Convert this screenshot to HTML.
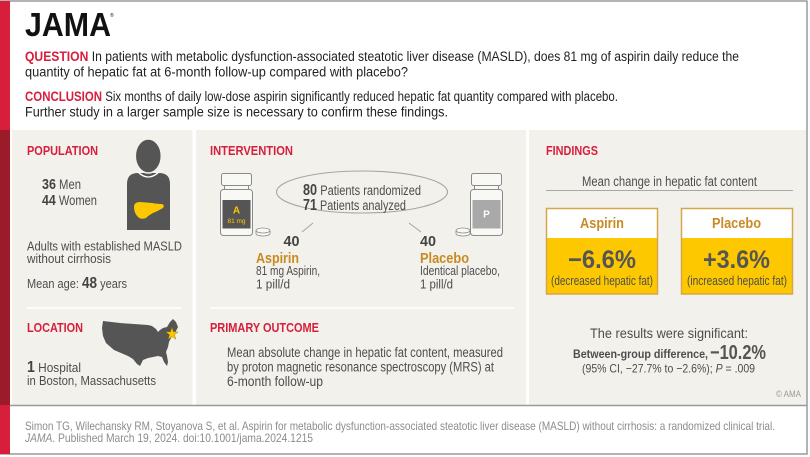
<!DOCTYPE html>
<html><head><meta charset="utf-8"><style>
html,body{margin:0;padding:0;background:#fff;}
svg{display:block;}
text{font-family:"Liberation Sans",Arial,sans-serif;}
</style></head><body>
<svg width="810" height="457" viewBox="0 0 810 457" xmlns="http://www.w3.org/2000/svg">
<rect x="0" y="0" width="810" height="457" fill="#fff"/>
<!-- panels -->
<rect x="12" y="130" width="180.5" height="275" fill="#f2f1ec"/>
<rect x="196" y="130" width="330" height="275" fill="#f2f1ec"/>
<rect x="529" y="130" width="277" height="275" fill="#f2f1ec"/>
<!-- frame -->
<line x1="0" y1="1" x2="807.5" y2="1" stroke="#9a9a9a" stroke-width="1.5"/>
<line x1="807" y1="1" x2="807" y2="454.5" stroke="#9a9a9a" stroke-width="1.5"/>
<line x1="0" y1="454" x2="807.5" y2="454" stroke="#9a9a9a" stroke-width="1.5"/>
<line x1="10" y1="405.5" x2="807" y2="405.5" stroke="#9a9a9a" stroke-width="1.5"/>
<rect x="0" y="1" width="10" height="453" fill="#d71f3c"/>
<rect x="0" y="130" width="10" height="275" fill="#9b1b2a"/>

<!-- header -->
<text x="25" y="36" font-size="33" font-weight="bold" fill="#111" textLength="86" lengthAdjust="spacingAndGlyphs">JAMA</text>
<text x="110" y="17" font-size="5" fill="#111">®</text>
<text x="25" y="61" font-size="13.5" fill="#222" textLength="714" lengthAdjust="spacingAndGlyphs"><tspan fill="#d71f3c" font-weight="bold">QUESTION</tspan> In patients with metabolic dysfunction-associated steatotic liver disease (MASLD), does 81 mg of aspirin daily reduce the</text>
<text x="25" y="76.5" font-size="13.5" fill="#222" textLength="383" lengthAdjust="spacingAndGlyphs">quantity of hepatic fat at 6-month follow-up compared with placebo?</text>
<text x="25" y="101" font-size="13.5" fill="#222" textLength="593" lengthAdjust="spacingAndGlyphs"><tspan fill="#d71f3c" font-weight="bold">CONCLUSION</tspan> Six months of daily low-dose aspirin significantly reduced hepatic fat quantity compared with placebo.</text>
<text x="25" y="116.5" font-size="13.5" fill="#222" textLength="423" lengthAdjust="spacingAndGlyphs">Further study in a larger sample size is necessary to confirm these findings.</text>

<!-- POPULATION panel -->
<text x="27" y="155" font-size="13" font-weight="bold" fill="#d71f3c" textLength="71" lengthAdjust="spacingAndGlyphs">POPULATION</text>
<text x="42" y="189" font-size="13.5" fill="#4d4d4d" textLength="39" lengthAdjust="spacingAndGlyphs"><tspan font-size="15" font-weight="bold" fill="#444">36</tspan> Men</text>
<text x="42" y="205" font-size="13.5" fill="#4d4d4d" textLength="55" lengthAdjust="spacingAndGlyphs"><tspan font-size="15" font-weight="bold" fill="#444">44</tspan> Women</text>
<!-- person -->
<path d="M127,230 L127,184 Q127,173 138,173 L159,173 Q170,173 170,184 L170,230 Z" fill="#555"/>
<path d="M138,172 Q148,182 159,172" fill="none" stroke="#fff" stroke-width="1.3"/>
<ellipse cx="148.3" cy="156" rx="13" ry="17" fill="#555" stroke="#f2f1ec" stroke-width="1.5"/>
<path d="M134,207 Q134,202 140,202 L152,203 Q158,204 162,204 Q165,205 163,208 Q158,211 153,213 Q149,215 146,218 Q141,220 138,217 Q134,213 134,207 Z" fill="#fdc800"/>
<text x="27" y="250.5" font-size="13" fill="#4d4d4d" textLength="155" lengthAdjust="spacingAndGlyphs">Adults with established MASLD</text>
<text x="27" y="263" font-size="13" fill="#4d4d4d" textLength="84" lengthAdjust="spacingAndGlyphs">without cirrhosis</text>
<text x="27" y="288" font-size="13" fill="#4d4d4d" textLength="100" lengthAdjust="spacingAndGlyphs">Mean age: <tspan font-size="16" font-weight="bold" fill="#444">48</tspan> years</text>
<line x1="27" y1="308" x2="181" y2="308" stroke="#fff" stroke-width="1.5"/>
<text x="27" y="332" font-size="13" font-weight="bold" fill="#d71f3c" textLength="56" lengthAdjust="spacingAndGlyphs">LOCATION</text>
<path d="M103,321 L120,323 L148,325 L152,326 L156,329 L158,332 L160,330 L163,328 L167,327 L170,322 L173,319 L176,322 L178,327 L176,331 L172,336 L169,342 L168,347 L166,352 L167,356 L168,362 L167,366 L164,362 L162,357 L158,356 L153,357 L148,358 L143,360 L140,366 L137,364 L133,359 L128,356 L121,353 L114,350 L106,343 L103,336 L102,328 Z" fill="#555"/>
<polygon points="172,327.5 173.53,331.9 178.18,331.99 174.47,334.8 175.82,339.26 172,336.6 168.18,339.26 169.53,334.8 165.82,331.99 170.47,331.9" fill="#fdc800" stroke="#8a6a00" stroke-width="0.4"/>
<text x="27" y="372" font-size="13" fill="#4d4d4d" textLength="54" lengthAdjust="spacingAndGlyphs"><tspan font-size="15.5" font-weight="bold" fill="#444">1</tspan> Hospital</text>
<text x="27" y="385" font-size="13" fill="#4d4d4d" textLength="129" lengthAdjust="spacingAndGlyphs">in Boston, Massachusetts</text>

<!-- INTERVENTION -->
<text x="210" y="155" font-size="13" font-weight="bold" fill="#d71f3c" textLength="83" lengthAdjust="spacingAndGlyphs">INTERVENTION</text>
<!-- aspirin bottle -->
<rect x="221.5" y="173.5" width="30" height="12" rx="2" fill="#f8f8f5" stroke="#8a8a8a" stroke-width="1"/>
<rect x="224.5" y="185.5" width="24" height="4" fill="#f8f8f5" stroke="#8a8a8a" stroke-width="1"/>
<rect x="220.5" y="189.5" width="32" height="46" rx="3" fill="#f8f8f5" stroke="#8a8a8a" stroke-width="1"/>
<rect x="222.5" y="200" width="28" height="28.5" fill="#555"/>
<text x="236.5" y="213.5" font-size="10" font-weight="bold" fill="#fdc800" text-anchor="middle">A</text>
<text x="236.5" y="223" font-size="6.5" fill="#fdc800" text-anchor="middle">81 mg</text>
<path d="M256,230.5 L256,233.5 A7,2.5 0 0 0 270,233.5 L270,230.5" fill="#f8f8f5" stroke="#8a8a8a" stroke-width="0.8"/>
<ellipse cx="263" cy="230.5" rx="7" ry="2.5" fill="#f8f8f5" stroke="#8a8a8a" stroke-width="0.8"/>
<!-- placebo bottle -->
<rect x="471.5" y="173.5" width="30" height="12" rx="2" fill="#f8f8f5" stroke="#8a8a8a" stroke-width="1"/>
<rect x="474.5" y="185.5" width="24" height="4" fill="#f8f8f5" stroke="#8a8a8a" stroke-width="1"/>
<rect x="470.5" y="189.5" width="32" height="46" rx="3" fill="#f8f8f5" stroke="#8a8a8a" stroke-width="1"/>
<rect x="472.5" y="200" width="28" height="28.5" fill="#a9a9a9"/>
<text x="486.5" y="217.5" font-size="10" font-weight="bold" fill="#fff" text-anchor="middle">P</text>
<path d="M456,230.5 L456,233.5 A7,2.5 0 0 0 470,233.5 L470,230.5" fill="#f8f8f5" stroke="#8a8a8a" stroke-width="0.8"/>
<ellipse cx="463" cy="230.5" rx="7" ry="2.5" fill="#f8f8f5" stroke="#8a8a8a" stroke-width="0.8"/>
<!-- ellipse -->
<ellipse cx="362" cy="192" rx="85.5" ry="21" fill="none" stroke="#a5a5a5" stroke-width="1.1"/>
<text x="303" y="195" font-size="13.5" fill="#4d4d4d" textLength="118" lengthAdjust="spacingAndGlyphs"><tspan font-size="15.5" font-weight="bold" fill="#444">80</tspan> Patients randomized</text>
<text x="303" y="210" font-size="13.5" fill="#4d4d4d" textLength="103" lengthAdjust="spacingAndGlyphs"><tspan font-size="15.5" font-weight="bold" fill="#444">71</tspan> Patients analyzed</text>
<line x1="313" y1="223" x2="302" y2="232" stroke="#a5a5a5" stroke-width="1"/>
<line x1="409" y1="223" x2="421" y2="232" stroke="#a5a5a5" stroke-width="1"/>
<text x="283.5" y="246" font-size="15" font-weight="bold" fill="#444" textLength="16" lengthAdjust="spacingAndGlyphs">40</text>
<text x="256" y="263" font-size="15" font-weight="bold" fill="#c98a23" textLength="43" lengthAdjust="spacingAndGlyphs">Aspirin</text>
<text x="256" y="275" font-size="13" fill="#4d4d4d" textLength="64" lengthAdjust="spacingAndGlyphs">81 mg Aspirin,</text>
<text x="256" y="288.5" font-size="13" fill="#4d4d4d" textLength="34" lengthAdjust="spacingAndGlyphs">1 pill/d</text>
<text x="420" y="246" font-size="15" font-weight="bold" fill="#444" textLength="16" lengthAdjust="spacingAndGlyphs">40</text>
<text x="420" y="263" font-size="15" font-weight="bold" fill="#c98a23" textLength="49" lengthAdjust="spacingAndGlyphs">Placebo</text>
<text x="420" y="275" font-size="13" fill="#4d4d4d" textLength="80" lengthAdjust="spacingAndGlyphs">Identical placebo,</text>
<text x="420" y="288.5" font-size="13" fill="#4d4d4d" textLength="33" lengthAdjust="spacingAndGlyphs">1 pill/d</text>
<line x1="210" y1="308" x2="514" y2="308" stroke="#fff" stroke-width="1.5"/>
<text x="210" y="332" font-size="13" font-weight="bold" fill="#d71f3c" textLength="109" lengthAdjust="spacingAndGlyphs">PRIMARY OUTCOME</text>
<text x="227" y="357" font-size="13.5" fill="#4d4d4d" textLength="276" lengthAdjust="spacingAndGlyphs">Mean absolute change in hepatic fat content, measured</text>
<text x="227" y="371.5" font-size="13.5" fill="#4d4d4d" textLength="267" lengthAdjust="spacingAndGlyphs">by proton magnetic resonance spectroscopy (MRS) at</text>
<text x="227" y="386" font-size="13.5" fill="#4d4d4d" textLength="96" lengthAdjust="spacingAndGlyphs">6-month follow-up</text>

<!-- FINDINGS -->
<text x="546" y="155" font-size="13" font-weight="bold" fill="#d71f3c" textLength="52" lengthAdjust="spacingAndGlyphs">FINDINGS</text>
<text x="582" y="186" font-size="13.5" fill="#4d4d4d" textLength="175" lengthAdjust="spacingAndGlyphs">Mean change in hepatic fat content</text>
<line x1="546" y1="190.5" x2="793" y2="190.5" stroke="#a8a8a8" stroke-width="1"/>
<!-- aspirin box -->
<rect x="546.5" y="208.5" width="111" height="85.5" fill="#fff"/>
<rect x="546.5" y="238" width="111" height="56" fill="#fdc800"/>
<rect x="546.5" y="208.5" width="111" height="85.5" fill="none" stroke="#d6a64c" stroke-width="1.5"/>
<text x="580" y="228" font-size="15" font-weight="bold" fill="#c98a23" textLength="44" lengthAdjust="spacingAndGlyphs">Aspirin</text>
<text x="568" y="268" font-size="25" font-weight="bold" fill="#555" textLength="68" lengthAdjust="spacingAndGlyphs">−6.6%</text>
<text x="551" y="285" font-size="12.5" fill="#4d4d4d" textLength="102" lengthAdjust="spacingAndGlyphs">(decreased hepatic fat)</text>
<!-- placebo box -->
<rect x="681.5" y="208.5" width="111" height="85.5" fill="#fff"/>
<rect x="681.5" y="238" width="111" height="56" fill="#fdc800"/>
<rect x="681.5" y="208.5" width="111" height="85.5" fill="none" stroke="#d6a64c" stroke-width="1.5"/>
<text x="712" y="228" font-size="15" font-weight="bold" fill="#c98a23" textLength="49" lengthAdjust="spacingAndGlyphs">Placebo</text>
<text x="703" y="268" font-size="25" font-weight="bold" fill="#555" textLength="67" lengthAdjust="spacingAndGlyphs">+3.6%</text>
<text x="687" y="285" font-size="12.5" fill="#4d4d4d" textLength="100" lengthAdjust="spacingAndGlyphs">(increased hepatic fat)</text>

<text x="590" y="338" font-size="14" fill="#4d4d4d" textLength="158" lengthAdjust="spacingAndGlyphs">The results were significant:</text>
<text x="573" y="358" font-size="12" font-weight="bold" fill="#4d4d4d" textLength="135" lengthAdjust="spacingAndGlyphs">Between-group difference,</text>
<text x="710" y="359" font-size="20" font-weight="bold" fill="#555" textLength="56" lengthAdjust="spacingAndGlyphs">−10.2%</text>
<text x="582" y="372.5" font-size="12" fill="#4d4d4d" textLength="173" lengthAdjust="spacingAndGlyphs">(95% CI, −27.7% to −2.6%); <tspan font-style="italic">P</tspan> = .009</text>
<text x="776" y="397" font-size="9" fill="#9a9a9a" textLength="25" lengthAdjust="spacingAndGlyphs">© AMA</text>

<!-- footer -->
<text x="25" y="430" font-size="12" fill="#8c8c8c" textLength="750" lengthAdjust="spacingAndGlyphs">Simon TG, Wilechansky RM, Stoyanova S, et al. Aspirin for metabolic dysfunction-associated steatotic liver disease (MASLD) without cirrhosis: a randomized clinical trial.</text>
<text x="25" y="442" font-size="12" fill="#8c8c8c" textLength="288" lengthAdjust="spacingAndGlyphs"><tspan font-style="italic">JAMA</tspan>. Published March 19, 2024. doi:10.1001/jama.2024.1215</text>
</svg>
</body></html>
